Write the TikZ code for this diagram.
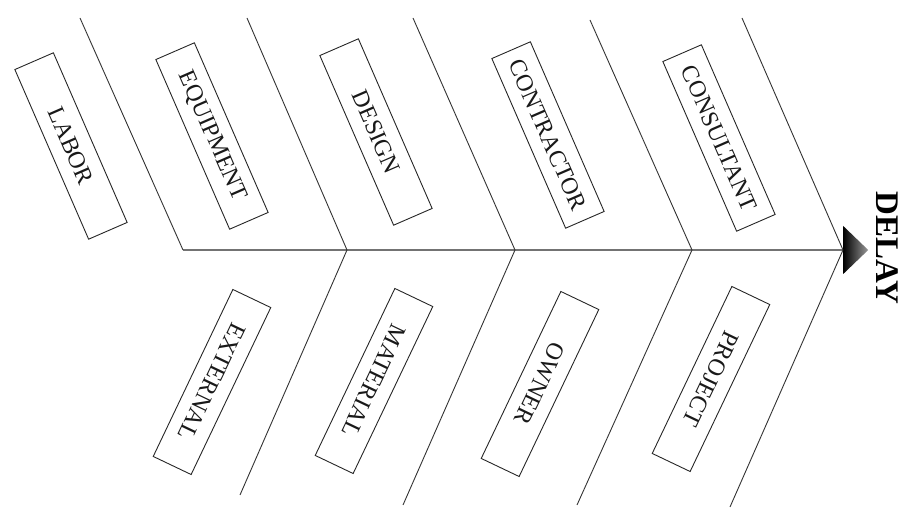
\documentclass[tikz,border=0pt]{standalone}
\usepackage{fontspec}
\setmainfont{Liberation Serif}
\usetikzlibrary{shapes.geometric}
\begin{document}
\begin{tikzpicture}[x=1pt,y=-1pt,
  bone/.style={draw=black!80, line width=0.9pt},
  spine/.style={draw=black!55, line width=1.8pt},
  cause/.style={draw=black!85, line width=0.9pt, minimum width=185pt, minimum height=42pt,
    inner sep=0pt, font=\fontsize{24}{24}\selectfont, text=black!90},
  topcause/.style={cause, rotate=-66.5},
  botcause/.style={cause, rotate=-115.5},
  effect/.style={font=\fontsize{33}{33}\selectfont\bfseries, rotate=-90, text=black, inner sep=0pt}]
\useasboundingbox (0,0) rectangle (903,510);
% junctions on the spine
\coordinate (j1) at (183,250);
\coordinate (j2) at (347,250);
\coordinate (j3) at (515,250);
\coordinate (j4) at (692,250);
\coordinate (j5) at (843,250);
% free ends of the bones
\coordinate (t1) at (80,18);
\coordinate (t2) at (247,18);
\coordinate (t3) at (413,18);
\coordinate (t4) at (590,20);
\coordinate (t5) at (742,18);
\coordinate (b2) at (240,495);
\coordinate (b3) at (403,505);
\coordinate (b4) at (577,505);
\coordinate (b5) at (730,507);
% spine and head
\draw[spine] (j1) -- (j5);
\node (head) [isosceles triangle, isosceles triangle stretches, minimum height=25pt,
  minimum width=48pt, inner sep=0pt, anchor=west, left color=black, right color=black!40,
  draw=none] at (j5) {};
\node (delay) [effect] at (887,248) {DELAY};
% bones
\draw[bone] (t1) -- (j1);
\draw[bone] (t2) -- (j2);
\draw[bone] (t3) -- (j3);
\draw[bone] (t4) -- (j4);
\draw[bone] (t5) -- (j5);
\draw[bone] (j2) -- (b2);
\draw[bone] (j3) -- (b3);
\draw[bone] (j4) -- (b4);
\draw[bone] (j5) -- (b5);
% causes
\node (labor) [topcause] at (71,146) {LABOR};
\node (equipment) [topcause] at (212,136) {EQUIPMENT};
\node (design) [topcause] at (376,132) {DESIGN};
\node (contractor) [topcause] at (548,135) {CONTRACTOR};
\node (consultant) [topcause] at (719,138) {CONSULTANT};
\node (external) [botcause] at (212,382) {EXTERNAL};
\node (material) [botcause] at (374,381) {MATERIAL};
\node (owner) [botcause] at (540,384) {OWNER};
\node (project) [botcause] at (711,379) {PROJECT};
\end{tikzpicture}
\end{document}
